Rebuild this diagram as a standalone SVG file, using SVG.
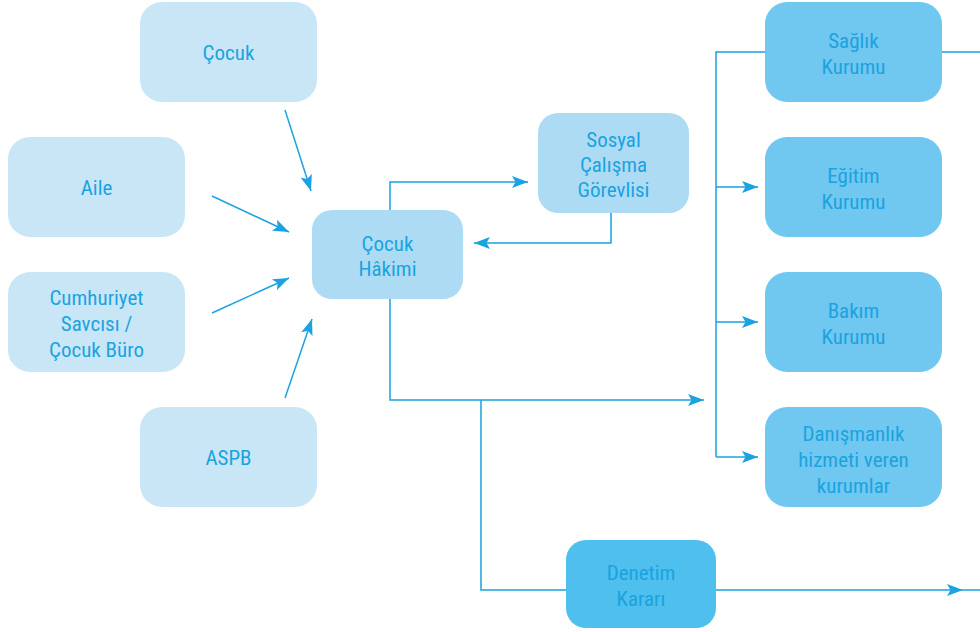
<svg xmlns="http://www.w3.org/2000/svg" width="980" height="632" viewBox="0 0 980 632">
<defs>
<marker id="ah" viewBox="0 0 16 12" refX="16" refY="6" markerWidth="16" markerHeight="12" markerUnits="userSpaceOnUse" orient="auto">
<path d="M0,0 L16,6 L0,12 L3.5,6 Z" fill="#1aa3e0"/>
</marker>
<style>
.t{font-family:"Roboto Condensed","Liberation Sans Narrow",Roboto,"Liberation Sans",sans-serif;font-size:21px;fill:#1aa3e0;text-anchor:middle}
.l{fill:none;stroke:#1aa3e0;stroke-width:1.5}
.a{marker-end:url(#ah)}
.c1{fill:#c9e6f7}
.c2{fill:#addbf4}
.c3{fill:#70c7ef}
.c4{fill:#4fbfed}
</style>
</defs>
<g id="connectors">
<line class="l a" x1="285" y1="110" x2="311" y2="191"/>
<line class="l a" x1="212" y1="196" x2="289" y2="232"/>
<line class="l a" x1="212" y1="313" x2="289" y2="278"/>
<line class="l a" x1="285" y1="398" x2="312" y2="319"/>
<polyline class="l a" points="390,210 390,182 528,182"/>
<polyline class="l a" points="611,213 611,243 474,243"/>
<polyline class="l a" points="390,299 390,400 704,400"/>
<polyline class="l" points="481,400 481,590 566,590"/>
<line class="l" x1="716" y1="590" x2="980" y2="590"/>
<path d="M947,584 L963,590 L947,596 L950.5,590 Z" fill="#1aa3e0"/>
<polyline class="l" points="765,52 716,52 716,457"/>
<line class="l" x1="942" y1="52" x2="980" y2="52"/>
<line class="l a" x1="716" y1="187" x2="758" y2="187"/>
<line class="l a" x1="716" y1="322" x2="758" y2="322"/>
<line class="l a" x1="716" y1="457" x2="758" y2="457"/>
</g>
<g id="cocuk"><rect class="c1" x="140" y="2" width="177" height="100" rx="22"/><text class="t" x="228.5" y="60">Çocuk</text></g>
<g id="aile"><rect class="c1" x="8" y="137" width="177" height="100" rx="22"/><text class="t" x="96.5" y="195">Aile</text></g>
<g id="cumhuriyet"><rect class="c1" x="8" y="272" width="177" height="100" rx="22"/><text class="t" x="96.5" y="305">Cumhuriyet</text><text class="t" x="96.5" y="331">Savcısı /</text><text class="t" x="96.5" y="357">Çocuk Büro</text></g>
<g id="aspb"><rect class="c1" x="140" y="407" width="177" height="100" rx="22"/><text class="t" x="228.5" y="465">ASPB</text></g>
<g id="hakim"><rect class="c2" x="312" y="210" width="151" height="89" rx="20"/><text class="t" x="387.5" y="251">Çocuk</text><text class="t" x="387.5" y="276">Hâkimi</text></g>
<g id="sosyal"><rect class="c2" x="538" y="113" width="151" height="100" rx="20"/><text class="t" x="613.5" y="147">Sosyal</text><text class="t" x="613.5" y="172">Çalışma</text><text class="t" x="613.5" y="197">Görevlisi</text></g>
<g id="saglik"><rect class="c3" x="765" y="2" width="177" height="100" rx="22"/><text class="t" x="853.5" y="48">Sağlık</text><text class="t" x="853.5" y="74">Kurumu</text></g>
<g id="egitim"><rect class="c3" x="765" y="137" width="177" height="100" rx="22"/><text class="t" x="853.5" y="183">Eğitim</text><text class="t" x="853.5" y="209">Kurumu</text></g>
<g id="bakim"><rect class="c3" x="765" y="272" width="177" height="100" rx="22"/><text class="t" x="853.5" y="318">Bakım</text><text class="t" x="853.5" y="344">Kurumu</text></g>
<g id="danisma"><rect class="c3" x="765" y="407" width="177" height="100" rx="22"/><text class="t" x="853.5" y="441">Danışmanlık</text><text class="t" x="853.5" y="467">hizmeti veren</text><text class="t" x="853.5" y="493">kurumlar</text></g>
<g id="denetim"><rect class="c4" x="566" y="540" width="150" height="88" rx="20"/><text class="t" x="641" y="580">Denetim</text><text class="t" x="641" y="606">Kararı</text></g>
</svg>
